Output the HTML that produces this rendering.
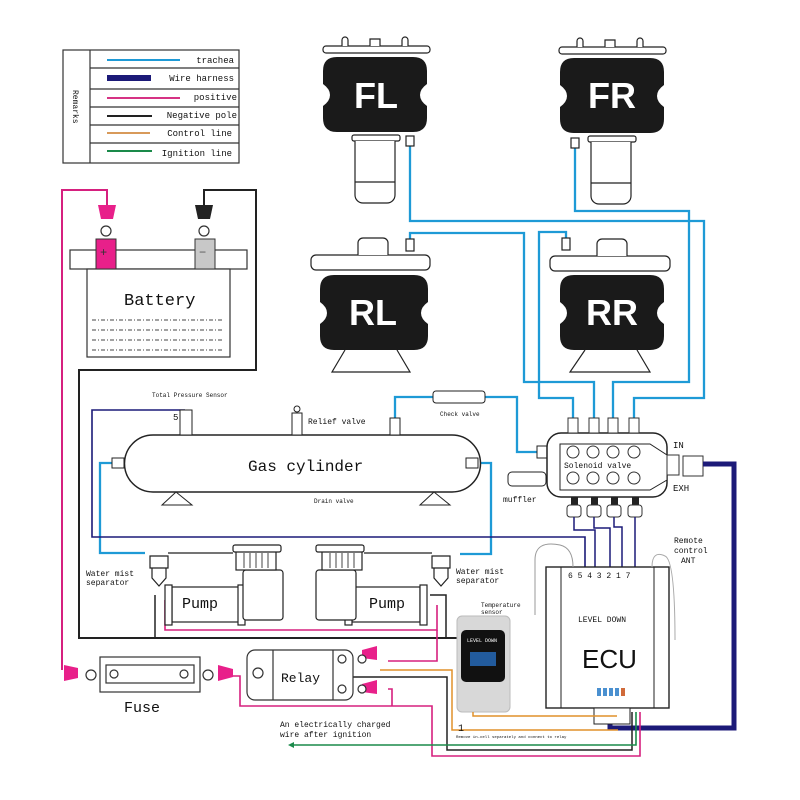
<!DOCTYPE html>
<html><head><meta charset="utf-8"><style>
html,body{margin:0;padding:0;background:#fff}
svg{display:block}
text{font-family:"Liberation Mono",monospace;fill:#111}
</style></head><body>
<svg width="800" height="800" viewBox="0 0 800 800" xmlns="http://www.w3.org/2000/svg">
<rect width="800" height="800" fill="#fff"/>
<!-- Legend -->
<g stroke="#333" fill="none" stroke-width="1.2">
<rect x="63" y="50" width="176" height="113"/>
<line x1="90" y1="50" x2="90" y2="163"/>
<line x1="90" y1="68" x2="239" y2="68"/><line x1="90" y1="89" x2="239" y2="89"/>
<line x1="90" y1="107" x2="239" y2="107"/><line x1="90" y1="125" x2="239" y2="125"/>
<line x1="90" y1="143" x2="239" y2="143"/>
</g>
<line x1="107" y1="60" x2="180" y2="60" stroke="#1e9ad6" stroke-width="2"/>
<rect x="107" y="75" width="44" height="6" fill="#1c1a78"/>
<line x1="107" y1="98" x2="180" y2="98" stroke="#d63384" stroke-width="2"/>
<line x1="107" y1="116" x2="152" y2="116" stroke="#222" stroke-width="2"/>
<line x1="107" y1="133" x2="150" y2="133" stroke="#d89a5a" stroke-width="2"/>
<line x1="107" y1="151" x2="152" y2="151" stroke="#1a8a4a" stroke-width="2"/>
<g font-size="9" text-anchor="end">
<text x="234" y="63">trachea</text><text x="234" y="81">Wire harness</text>
<text x="237" y="100">positive</text><text x="237" y="118">Negative pole</text>
<text x="232" y="136">Control line</text><text x="232" y="156">Ignition line</text>
</g>
<text x="0" y="0" font-size="8" transform="translate(73,90) rotate(90)">Remarks</text>

<!-- Air lines (trachea) -->
<g stroke="#1e9ad6" stroke-width="2.3" fill="none">
<polyline points="410,143 410,221 704,221 704,398 634,398 634,418"/>
<polyline points="575,145 575,211 689,211 689,382 613,382 613,418"/>
<polyline points="410,243 410,233 524,233 524,382 594,382 594,418"/>
<polyline points="566,240 566,232 539,232 539,398 573,398 573,418"/>
<polyline points="395,418 395,397 433,397"/>
<polyline points="485,397 517,397 517,452 537,452"/>
<polyline points="475,463 491,463 491,554 460,554"/>
<polyline points="113,463 100,463 100,553 145,553"/>
</g>
<!-- springs -->
<g fill="#1a1a1a">
<path d="M337,57 H413 Q427,57 427,71 V84 Q420,89 420,95 Q420,101 427,106 V118 Q427,132 413,132 H337 Q323,132 323,118 V106 Q330,101 330,95 Q330,89 323,84 V71 Q323,57 337,57Z"/>
<path d="M574,58 H650 Q664,58 664,72 V85 Q657,90 657,96 Q657,102 664,107 V119 Q664,133 650,133 H574 Q560,133 560,119 V107 Q567,102 567,96 Q567,90 560,85 V72 Q560,58 574,58Z"/>
<path d="M334,275 H414 Q428,275 428,289 V302 Q421,307 421,313 Q421,319 428,324 V336 Q428,350 414,350 H334 Q320,350 320,336 V324 Q327,319 327,313 Q327,307 320,302 V289 Q320,275 334,275Z"/>
<path d="M574,275 H650 Q664,275 664,289 V302 Q657,307 657,313 Q657,319 664,324 V336 Q664,350 650,350 H574 Q560,350 560,336 V324 Q567,319 567,313 Q567,307 560,302 V289 Q560,275 574,275Z"/>
</g>
<g font-weight="bold" font-size="36" text-anchor="middle">
<text x="376" y="108" style="fill:#fff;font-family:'Liberation Sans',sans-serif">FL</text>
<text x="612" y="108" style="fill:#fff;font-family:'Liberation Sans',sans-serif">FR</text>
<text x="373" y="325" style="fill:#fff;font-family:'Liberation Sans',sans-serif">RL</text>
<text x="612" y="325" style="fill:#fff;font-family:'Liberation Sans',sans-serif">RR</text>
</g>
<g stroke="#222" fill="#fff" stroke-width="1.2">
<rect x="323" y="46" width="107" height="7" rx="3"/>
<rect x="559" y="47" width="107" height="7" rx="3"/>
<path d="M342,46 v-6 a3,3 0 0 1 6,0 v6 M370,46 v-7 h10 v7 M402,46 v-6 a3,3 0 0 1 6,0 v6"/>
<path d="M577,47 v-6 a3,3 0 0 1 6,0 v6 M605,47 v-7 h10 v7 M637,47 v-6 a3,3 0 0 1 6,0 v6"/>
<rect x="352" y="135" width="48" height="6" rx="2"/>
<path d="M355,141 v54 a8,8 0 0 0 8,8 h24 a8,8 0 0 0 8,-8 v-54 M355,182 h40"/>
<rect x="588" y="136" width="48" height="6" rx="2"/>
<path d="M591,142 v54 a8,8 0 0 0 8,8 h24 a8,8 0 0 0 8,-8 v-54 M591,183 h40"/>
<rect x="311" y="255" width="119" height="15" rx="5"/>
<path d="M358,255 v-12 a5,5 0 0 1 5,-5 h20 a5,5 0 0 1 5,5 v12"/>
<rect x="550" y="256" width="120" height="15" rx="5"/>
<path d="M597,256 v-12 a5,5 0 0 1 5,-5 h20 a5,5 0 0 1 5,5 v12"/>
<path d="M345,350 L332,372 H410 L397,350"/>
<path d="M585,350 L570,372 H650 L637,350"/>
<rect x="406" y="136" width="8" height="10"/><rect x="571" y="138" width="8" height="10"/>
<rect x="406" y="239" width="8" height="12"/><rect x="562" y="238" width="8" height="12"/>
</g>

<!-- Battery -->
<polyline points="107,205 107,190 62,190 62,670" stroke="#d6207f" stroke-width="2" fill="none"/>
<polyline points="204,205 204,190 256,190 256,370 79,370 79,638 470,638" stroke="#222" stroke-width="2" fill="none"/>
<path d="M98,205 h18 l-3,14 h-12z" fill="#e8208a"/>
<path d="M195,205 h18 l-3,14 h-12z" fill="#222"/>
<g stroke="#333" fill="#fff" stroke-width="1.2">
<circle cx="106" cy="231" r="5"/><circle cx="204" cy="231" r="5"/>
<rect x="70" y="250" width="177" height="19"/>
<rect x="87" y="269" width="143" height="88"/>
</g>
<rect x="96" y="239" width="20" height="30" fill="#e8208a" stroke="#333"/>
<rect x="195" y="239" width="20" height="30" fill="#c8c8c8" stroke="#333"/>
<text x="100" y="256" font-size="12" style="fill:#333">+</text>
<text x="199" y="256" font-size="12" style="fill:#555">−</text>
<text x="124" y="305" font-size="17">Battery</text>
<g stroke="#444" stroke-dasharray="4,2,1,2" stroke-width="1">
<line x1="92" y1="320" x2="224" y2="320"/><line x1="92" y1="330" x2="224" y2="330"/>
<line x1="92" y1="340" x2="224" y2="340"/><line x1="92" y1="350" x2="224" y2="350"/>
</g>

<!-- navy sensor line -->
<polyline points="185,410 92,410 92,537 585,537 585,567" stroke="#1c1a78" stroke-width="1.6" fill="none"/>
<!-- Gas cylinder -->
<path d="M153,435 H452 A28,28 0 0 1 452,492 H153 A28,28 0 0 1 153,435 Z" fill="#fff" stroke="#222" stroke-width="1.5"/>
<path d="M176,492 L162,505 H192 Z M434,492 L420,505 H450 Z" fill="#fff" stroke="#222"/>
<text x="248" y="471" font-size="16">Gas cylinder</text>
<g stroke="#222" fill="#fff">
<rect x="180" y="410" width="12" height="25"/><rect x="292" y="413" width="10" height="22"/>
<circle cx="297" cy="409" r="3"/><rect x="390" y="418" width="10" height="17"/>
<rect x="112" y="458" width="12" height="10"/><rect x="466" y="458" width="12" height="10"/>
<rect x="433" y="391" width="52" height="12" rx="3"/>
<rect x="537" y="446" width="10" height="12"/><rect x="508" y="472" width="38" height="14" rx="4"/>
</g>
<text x="152" y="397" font-size="6">Total Pressure Sensor</text>
<text x="173" y="420" font-size="9">5</text>
<text x="308" y="424" font-size="8">Relief valve</text>
<text x="440" y="416" font-size="6">Check valve</text>
<text x="314" y="503" font-size="6">Drain valve</text>
<text x="503" y="502" font-size="8">muffler</text>

<!-- Solenoid valve -->
<rect x="547" y="433" width="120" height="64" rx="14" fill="#fff" stroke="#222" stroke-width="1.5"/>
<path d="M560,444 H650 L667,455 V480 L650,490 H560 Z" fill="#fff" stroke="#222"/>
<g fill="#fff" stroke="#333">
<circle cx="573" cy="452" r="6"/><circle cx="593" cy="452" r="6"/><circle cx="613" cy="452" r="6"/><circle cx="634" cy="452" r="6"/>
<circle cx="573" cy="478" r="6"/><circle cx="593" cy="478" r="6"/><circle cx="613" cy="478" r="6"/><circle cx="634" cy="478" r="6"/>
<rect x="568" y="418" width="10" height="15"/><rect x="589" y="418" width="10" height="15"/><rect x="608" y="418" width="10" height="15"/><rect x="629" y="418" width="10" height="15"/>
<rect x="667" y="455" width="12" height="20"/><rect x="683" y="456" width="20" height="20"/>
</g>
<text x="564" y="468" font-size="8">Solenoid valve</text>
<text x="673" y="448" font-size="9">IN</text><text x="673" y="491" font-size="9">EXH</text>
<g fill="#222"><rect x="571" y="497" width="7" height="8"/><rect x="591" y="497" width="7" height="8"/><rect x="611" y="497" width="7" height="8"/><rect x="632" y="497" width="7" height="8"/></g>
<g stroke="#333" fill="#fff"><rect x="567" y="505" width="14" height="12" rx="3"/><rect x="587" y="505" width="14" height="12" rx="3"/><rect x="607" y="505" width="14" height="12" rx="3"/><rect x="628" y="505" width="14" height="12" rx="3"/></g>
<g stroke="#1c1a78" stroke-width="1.5" fill="none">
<polyline points="574,517 574,530 595,530 595,567"/>
<polyline points="594,517 594,528 610,528 610,567"/>
<polyline points="614,517 614,527 622,527 622,567"/>
<polyline points="635,517 635,567"/>
</g>
<!-- thick harness -->
<polyline points="703,464 734,464 734,728 610,728 610,715" stroke="#1c1a78" stroke-width="5" fill="none"/>
<!-- ECU -->
<rect x="546" y="567" width="123" height="141" fill="#fff" stroke="#222" stroke-width="1.4"/>
<line x1="561" y1="567" x2="561" y2="708" stroke="#222"/><line x1="654" y1="567" x2="654" y2="708" stroke="#222"/>
<rect x="594" y="708" width="36" height="16" fill="#fff" stroke="#222"/>
<text x="568" y="578" font-size="8">6 5 4 3 2 1 7</text>
<text x="578" y="622" font-size="8">LEVEL DOWN</text>
<text x="582" y="668" font-size="26" style="font-family:'Liberation Sans',sans-serif">ECU</text>
<g fill="#4a90d0"><rect x="597" y="688" width="4" height="8"/><rect x="603" y="688" width="4" height="8"/><rect x="609" y="688" width="4" height="8"/><rect x="615" y="688" width="4" height="8"/></g>
<rect x="621" y="688" width="4" height="8" fill="#d06a3a"/>
<text x="674" y="543" font-size="8">Remote</text><text x="674" y="553" font-size="8">control</text><text x="681" y="563" font-size="8">ANT</text>
<path d="M535,615 V560 Q535,540 560,545 Q573,548 573,567" stroke="#999" fill="none"/>
<path d="M652,567 Q652,550 665,556 Q675,560 675,640" stroke="#aaa" fill="none"/>
<text x="481" y="607" font-size="6">Temperature</text><text x="481" y="614" font-size="6">sensor</text>
<!-- remote -->
<rect x="457" y="616" width="53" height="96" rx="5" fill="#d8d8d8" stroke="#bbb"/>
<rect x="461" y="630" width="44" height="52" rx="5" fill="#111"/>
<text x="467" y="642" font-size="5" style="fill:#fff">LEVEL DOWN</text>
<rect x="470" y="652" width="26" height="14" fill="#2a7ad8" opacity="0.7"/>
<polyline points="473,712 473,716 617,716" stroke="#e0902a" stroke-width="1.5" fill="none"/>
<polyline points="380,670 452,670 452,730 618,730" stroke="#e0902a" stroke-width="1.5" fill="none"/>
<text x="458" y="731" font-size="10">1</text>
<text x="456" y="738" font-size="4">Remove in-cell separately and connect to relay</text>

<!-- Pumps -->
<polyline points="155,595 155,638" stroke="#222" stroke-width="1.5" fill="none"/>
<polyline points="430,595 446,595 446,638" stroke="#222" stroke-width="1.5" fill="none"/>
<polyline points="165,600 165,630 437,630 437,605" stroke="#d6207f" stroke-width="1.6" fill="none"/>
<polyline points="437,630 437,661 388,661" stroke="#d6207f" stroke-width="1.6" fill="none"/>
<g stroke="#222" fill="#fff" stroke-width="1.2">
<rect x="172" y="587" width="68" height="35"/><rect x="165" y="585" width="7" height="40"/><rect x="238" y="585" width="7" height="40"/>
<rect x="243" y="570" width="40" height="50" rx="3"/><rect x="236" y="548" width="40" height="22"/><rect x="233" y="545" width="48" height="7" rx="2"/>
<rect x="352" y="587" width="68" height="35"/><rect x="345" y="585" width="7" height="40"/><rect x="420" y="585" width="7" height="40"/>
<rect x="316" y="570" width="40" height="50" rx="3"/><rect x="322" y="548" width="40" height="22"/><rect x="316" y="545" width="48" height="7" rx="2"/>
<path d="M150,556 h18 v12 h-18z M152,568 h14 v10 l-7,8 l-7,-8z"/>
<path d="M432,556 h18 v12 h-18z M434,568 h14 v10 l-7,8 l-7,-8z"/>
<line x1="168" y1="553" x2="233" y2="553"/><line x1="364" y1="553" x2="432" y2="553"/>
</g>
<g stroke="#444" stroke-width="1"><line x1="244" y1="553" x2="244" y2="568"/><line x1="250" y1="553" x2="250" y2="568"/><line x1="256" y1="553" x2="256" y2="568"/><line x1="262" y1="553" x2="262" y2="568"/><line x1="268" y1="553" x2="268" y2="568"/>
<line x1="330" y1="553" x2="330" y2="568"/><line x1="336" y1="553" x2="336" y2="568"/><line x1="342" y1="553" x2="342" y2="568"/><line x1="348" y1="553" x2="348" y2="568"/><line x1="354" y1="553" x2="354" y2="568"/></g>
<text x="182" y="608" font-size="15">Pump</text><text x="369" y="608" font-size="15">Pump</text>
<text x="86" y="576" font-size="8">Water mist</text><text x="86" y="585" font-size="8">separator</text>
<text x="456" y="574" font-size="8">Water mist</text><text x="456" y="583" font-size="8">separator</text>

<!-- Fuse / relay wiring -->
<polyline points="233,676 240,676 240,706 432,706 432,756 640,756 640,712" stroke="#d6207f" stroke-width="1.6" fill="none"/>
<polyline points="388,689 392,689 392,706" stroke="#d6207f" stroke-width="1.6" fill="none"/>
<polyline points="352,677 447,677 447,750 632,750 632,712" stroke="#222" stroke-width="1.5" fill="none"/>
<polyline points="290,745 636,745 636,712" stroke="#1a8a4a" stroke-width="1.6" fill="none"/>
<path d="M288,745 l6,-3 v6z" fill="#1a8a4a"/>
<text x="280" y="727" font-size="8">An electrically charged</text><text x="280" y="737" font-size="8">wire after ignition</text>
<path d="M64,665 l14,3 v10 l-14,3z" fill="#e8208a"/>
<path d="M218,665 l15,4 v8 l-15,4z" fill="#e8208a"/>
<path d="M362,650 l15,-4 v14 l-15,-2z" fill="#e8208a"/>
<path d="M362,684 l15,-4 v14 l-15,-2z" fill="#e8208a"/>
<g stroke="#333" fill="#fff" stroke-width="1.2">
<circle cx="91" cy="675" r="5"/><circle cx="208" cy="675" r="5"/>
<circle cx="362" cy="659" r="4"/><circle cx="362" cy="689" r="4"/>
<rect x="100" y="657" width="100" height="35"/><rect x="106" y="665" width="88" height="18"/>
<circle cx="114" cy="674" r="4"/><circle cx="184" cy="674" r="4"/>
<rect x="247" y="650" width="106" height="50" rx="8"/>
<line x1="273" y1="650" x2="273" y2="700"/><line x1="333" y1="650" x2="333" y2="700"/>
<circle cx="258" cy="673" r="5"/><circle cx="342" cy="659" r="4"/><circle cx="342" cy="689" r="4"/>
</g>
<text x="124" y="712" font-size="15">Fuse</text>
<text x="281" y="682" font-size="13">Relay</text>
</svg>
</body></html>
